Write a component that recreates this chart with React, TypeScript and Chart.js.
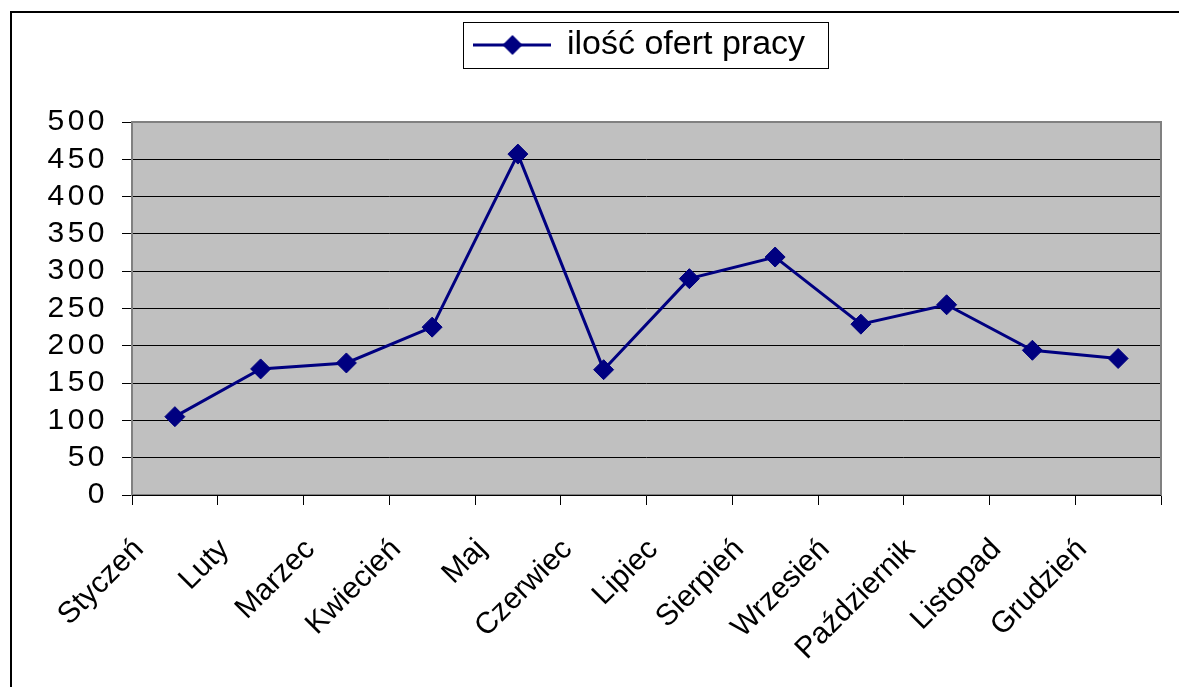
import React, { useEffect, useRef } from 'react';
import { Chart, registerables } from 'chart.js';

Chart.register(...registerables);

// ---- data ----
const categories = [
  'Styczeń', 'Luty', 'Marzec', 'Kwiecień', 'Maj', 'Czerwiec',
  'Lipiec', 'Sierpień', 'Wrzesień', 'Październik', 'Listopad', 'Grudzień',
];
const seriesName = 'ilość ofert pracy';
const offers = [105, 169, 177, 225, 457, 168, 290, 319, 229, 255, 194, 183];
const yMin = 0;
const yMax = 500;
const yStep = 50;

// ---- style / layout ----
const NAVY = '#000080';
const FONT = "'Liberation Sans', Arial, Helvetica, sans-serif";
const Y_SPACING = '3.5px';
const LEGEND_BAND = 104;
const LEGEND_CENTER_X = 640;

function makeLegendSymbol(): HTMLCanvasElement {
  const c = document.createElement('canvas');
  c.width = 78;
  c.height = 24;
  const g = c.getContext('2d')!;
  g.strokeStyle = NAVY;
  g.lineWidth = 3;
  g.beginPath();
  g.moveTo(0, 12);
  g.lineTo(78, 12);
  g.stroke();
  g.fillStyle = NAVY;
  g.beginPath();
  g.moveTo(39, 2);
  g.lineTo(49, 12);
  g.lineTo(39, 22);
  g.lineTo(29, 12);
  g.closePath();
  g.fill();
  return c;
}

function legendShift(lg: any) {
  return LEGEND_CENTER_X - (lg.left + lg.right) / 2;
}

function patchLegend(chart: any) {
  const lg = chart.legend;
  if (!lg || lg.__patched) return;
  lg.__patched = true;
  const origFit = lg.fit.bind(lg);
  const origDraw = lg.draw.bind(lg);
  lg.fit = function () {
    origFit();
    if (this.options.display) this.height = LEGEND_BAND;
  };
  lg.draw = function (...args: any[]) {
    const c = chart.ctx;
    c.save();
    c.translate(legendShift(this), 0);
    origDraw(...args);
    c.restore();
  };
}

function patchYScale(chart: any) {
  const s = chart.scales && chart.scales.y;
  if (!s || s.__patched) return;
  s.__patched = true;
  ['_computeLabelSizes', 'drawLabels'].forEach((name) => {
    if (typeof s[name] !== 'function') return;
    const orig = s[name].bind(s);
    s[name] = (...args: any[]) => {
      const c: any = chart.ctx;
      const prev = c.letterSpacing;
      c.letterSpacing = Y_SPACING;
      try {
        return orig(...args);
      } finally {
        c.letterSpacing = prev;
      }
    };
  });
}

const decorPlugin = {
  id: 'decor',
  afterInit(chart: any) {
    patchLegend(chart);
  },
  beforeUpdate(chart: any) {
    patchLegend(chart);
    patchYScale(chart);
  },
  beforeDraw(chart: any) {
    const ctx = chart.ctx;
    const a = chart.chartArea;
    ctx.save();
    ctx.fillStyle = '#C0C0C0';
    ctx.fillRect(a.left, a.top, a.right - a.left, a.bottom - a.top);
    ctx.restore();
  },
  beforeDatasetsDraw(chart: any) {
    const ctx = chart.ctx;
    const a = chart.chartArea;
    ctx.save();
    ctx.strokeStyle = '#808080';
    ctx.lineWidth = 2;
    ctx.strokeRect(a.left, a.top, a.right - a.left, a.bottom - a.top);
    ctx.strokeStyle = '#000000';
    ctx.lineWidth = 1;
    ctx.beginPath();
    ctx.moveTo(a.left, Math.round(a.bottom) + 0.5);
    ctx.lineTo(a.right, Math.round(a.bottom) + 0.5);
    ctx.stroke();
    ctx.restore();
  },
  afterDraw(chart: any) {
    const lg = chart.legend;
    const hb = lg && lg.legendHitBoxes && lg.legendHitBoxes[0];
    if (!hb) return;
    const dx = legendShift(lg);
    const ctx = chart.ctx;
    ctx.save();
    ctx.strokeStyle = '#000000';
    ctx.lineWidth = 1;
    ctx.strokeRect(
      Math.round(hb.left + dx - 12) + 0.5,
      Math.round(hb.top - 6) + 0.5,
      Math.round(hb.width + 35),
      Math.round(hb.height + 12)
    );
    ctx.restore();
  },
};

export default function App() {
  const ref = useRef<HTMLCanvasElement>(null);

  useEffect(() => {
    const canvas = ref.current;
    if (!canvas) return;
    const symbol = makeLegendSymbol();
    const chart = new Chart(canvas, {
      type: 'line',
      data: {
        labels: categories,
        datasets: [
          {
            label: seriesName,
            data: offers,
            borderColor: NAVY,
            backgroundColor: NAVY,
            borderWidth: 3,
            tension: 0,
            fill: false,
            pointStyle: 'rectRot',
            pointRadius: 10,
            pointHoverRadius: 10,
            pointBackgroundColor: NAVY,
            pointBorderColor: NAVY,
            pointBorderWidth: 1,
          },
        ],
      },
      options: {
        responsive: false,
        animation: false,
        devicePixelRatio: 1,
        layout: { padding: { left: 20, right: 18, top: 18, bottom: 0 } },
        plugins: {
          legend: {
            position: 'top',
            align: 'center',
            labels: {
              usePointStyle: true,
              pointStyleWidth: 75,
              padding: 10,
              color: '#000000',
              font: { family: FONT, size: 34 },
              generateLabels: () => [
                {
                  text: seriesName,
                  pointStyle: symbol as any,
                  fillStyle: NAVY,
                  strokeStyle: NAVY,
                  lineWidth: 0,
                  hidden: false,
                  datasetIndex: 0,
                  fontColor: '#000000',
                } as any,
              ],
            },
          },
          tooltip: { enabled: false },
        },
        scales: {
          x: {
            type: 'category',
            offset: true,
            grid: {
              display: true,
              drawOnChartArea: false,
              drawTicks: true,
              tickLength: 10,
              offset: true,
              color: '#000000',
            },
            border: { display: false },
            ticks: {
              autoSkip: false,
              minRotation: 45,
              maxRotation: 45,
              labelOffset: -36,
              padding: 27,
              color: '#000000',
              font: { family: FONT, size: 30 },
            },
            afterFit: (s: any) => {
              s.height = 192;
            },
          },
          y: {
            min: yMin,
            max: yMax,
            ticks: {
              stepSize: yStep,
              autoSkip: false,
              padding: 14,
              color: '#000000',
              font: { family: FONT, size: 30 },
            },
            grid: { color: '#000000', tickLength: 10, drawTicks: true },
            border: { display: false },
            afterFit: (s: any) => {
              s.width = 112;
            },
          },
        },
      },
      plugins: [decorPlugin as any],
    });
    return () => chart.destroy();
  }, []);

  return (
    <div
      style={{
        position: 'fixed',
        left: 0,
        top: 0,
        width: 1179,
        height: 687,
        overflow: 'hidden',
        background: '#ffffff',
      }}
    >
      <div
        style={{
          position: 'absolute',
          left: 10,
          top: 11,
          width: 1300,
          height: 800,
          border: '2px solid #000000',
          boxSizing: 'border-box',
        }}
      />
      <canvas
        ref={ref}
        width={1179}
        height={687}
        style={{ position: 'absolute', left: 0, top: 0, width: 1179, height: 687 }}
      />
    </div>
  );
}
